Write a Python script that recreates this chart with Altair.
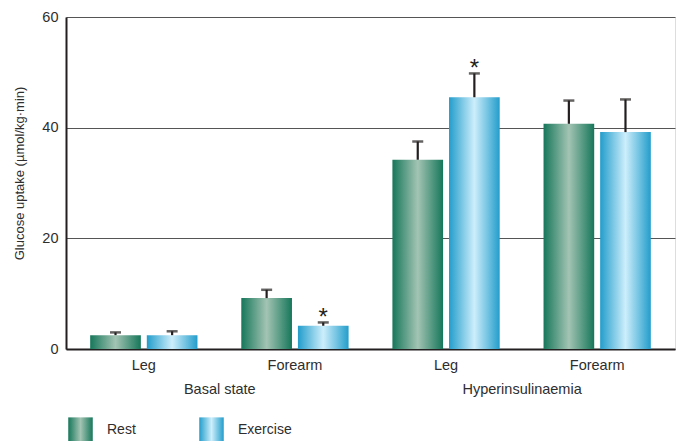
import altair as alt
import pandas as pd

# Glucose uptake by limb, condition and state
states = ["Basal state", "Basal state", "Hyperinsulinaemia", "Hyperinsulinaemia"]
sites = ["Leg", "Forearm", "Leg", "Forearm"]
rest_mean = [2.5, 9.2, 34.2, 40.7]
rest_se = [0.5, 1.5, 3.3, 4.2]
exercise_mean = [2.5, 4.2, 45.5, 39.2]
exercise_se = [0.7, 0.6, 4.3, 5.9]
exercise_sig = [False, True, True, False]
conditions = ["Rest", "Exercise"]
y_ticks = [0, 20, 40, 60]

# gradient end/centre colours for each condition
rest_edge, rest_mid = "#16775a", "#a3c4b4"
ex_edge, ex_mid = "#239dcb", "#cdeefb"

FONT = "Liberation Sans"
FS = 14.5
INK = "#231f20"
TXT = "#2e2e2e"

rows = []
for st, si, rm, rs, em, es, sig in zip(states, sites, rest_mean, rest_se,
                                       exercise_mean, exercise_se, exercise_sig):
    key = f"{st} – {si}"
    rows.append(dict(key=key, state=st, site=si, condition="Rest",
                     mean=rm, upper=rm + rs, star=""))
    rows.append(dict(key=key, state=st, site=si, condition="Exercise",
                     mean=em, upper=em + es, star="*" if sig else ""))
df = pd.DataFrame(rows)
keys = list(dict.fromkeys(df["key"]))

# one label per state, anchored on its first site
group_df = df[(df["site"] == "Leg") & (df["condition"] == "Rest")][["key", "state"]]


def grad(edge, mid):
    return alt.ExprRef(expr=(
        "{gradient:'linear',x1:0,y1:0,x2:1,y2:0,stops:["
        f"{{offset:0,color:'{edge}'}},{{offset:0.5,color:'{mid}'}},"
        f"{{offset:1,color:'{edge}'}}]}}"))


fill_range = [grad(rest_edge, rest_mid), grad(ex_edge, ex_mid)]

x_enc = alt.X("key:N", sort=keys,
              scale=alt.Scale(paddingInner=0.29, paddingOuter=0.16),
              axis=alt.Axis(title=None, labelExpr="split(datum.label, ' – ')[1]",
                            labelAngle=0, ticks=False, labelPadding=9,
                            domainColor=INK, domainWidth=2,
                            labelFontSize=FS, labelColor=TXT, labelFont=FONT))
x_off = alt.XOffset("condition:N", sort=conditions,
                    scale=alt.Scale(paddingInner=0.105, paddingOuter=0))
y_scale = alt.Scale(domain=[0, 60], nice=False)

base = alt.Chart(df)

bars = base.mark_bar(strokeWidth=0).encode(
    x=x_enc,
    xOffset=x_off,
    y=alt.Y("mean:Q", scale=y_scale,
            axis=alt.Axis(title="Glucose uptake (µmol/kg·min)", values=y_ticks,
                          ticks=False, labelPadding=8, grid=True,
                          gridColor="#555555", gridWidth=1,
                          domainColor=INK, domainWidth=2,
                          labelFontSize=FS, labelColor=TXT, labelFont=FONT,
                          titleFontSize=13, titleFont=FONT, titleColor=TXT,
                          titleFontWeight="normal", titlePadding=15, titleY=156)),
    color=alt.Color("condition:N",
                    scale=alt.Scale(domain=conditions, range=fill_range),
                    legend=alt.Legend(title=None, orient="none", legendX=2, legendY=400,
                                      direction="horizontal", symbolType="square",
                                      symbolSize=600, symbolStrokeWidth=0,
                                      labelFontSize=14, labelFont=FONT,
                                      labelColor=TXT, labelOffset=14,
                                      columnPadding=63, padding=0)),
)

whisker = base.mark_rule(color=INK, strokeWidth=2.2).encode(
    x=alt.X("key:N", sort=keys),
    xOffset=x_off,
    y=alt.Y("mean:Q", scale=y_scale),
    y2="upper:Q",
)

caps = base.mark_tick(color=INK, size=11, thickness=2.5, orient="horizontal").encode(
    x=alt.X("key:N", sort=keys),
    xOffset=x_off,
    y=alt.Y("upper:Q", scale=y_scale),
)

stars = base.mark_text(font=FONT, fontSize=24, color=INK,
                       baseline="alphabetic", dy=3).encode(
    x=alt.X("key:N", sort=keys),
    xOffset=x_off,
    y=alt.Y("upper:Q", scale=y_scale),
    text="star:N",
)

group_labels = alt.Chart(group_df).mark_text(
    font=FONT, fontSize=FS, color=TXT, baseline="middle", dx=76
).encode(
    x=alt.X("key:N", sort=keys),
    y=alt.value(373),
    text="state:N",
)

chart = alt.layer(bars, whisker, caps, stars, group_labels).properties(
    width=609,
    height=332,
    autosize=alt.AutoSizeParams(type="none"),
    padding={"left": 66, "top": 17, "right": 5, "bottom": 92},
).configure_view(stroke=None).configure(background="white")

chart.save("out.html", embed_options={"renderer": "svg", "actions": False})
